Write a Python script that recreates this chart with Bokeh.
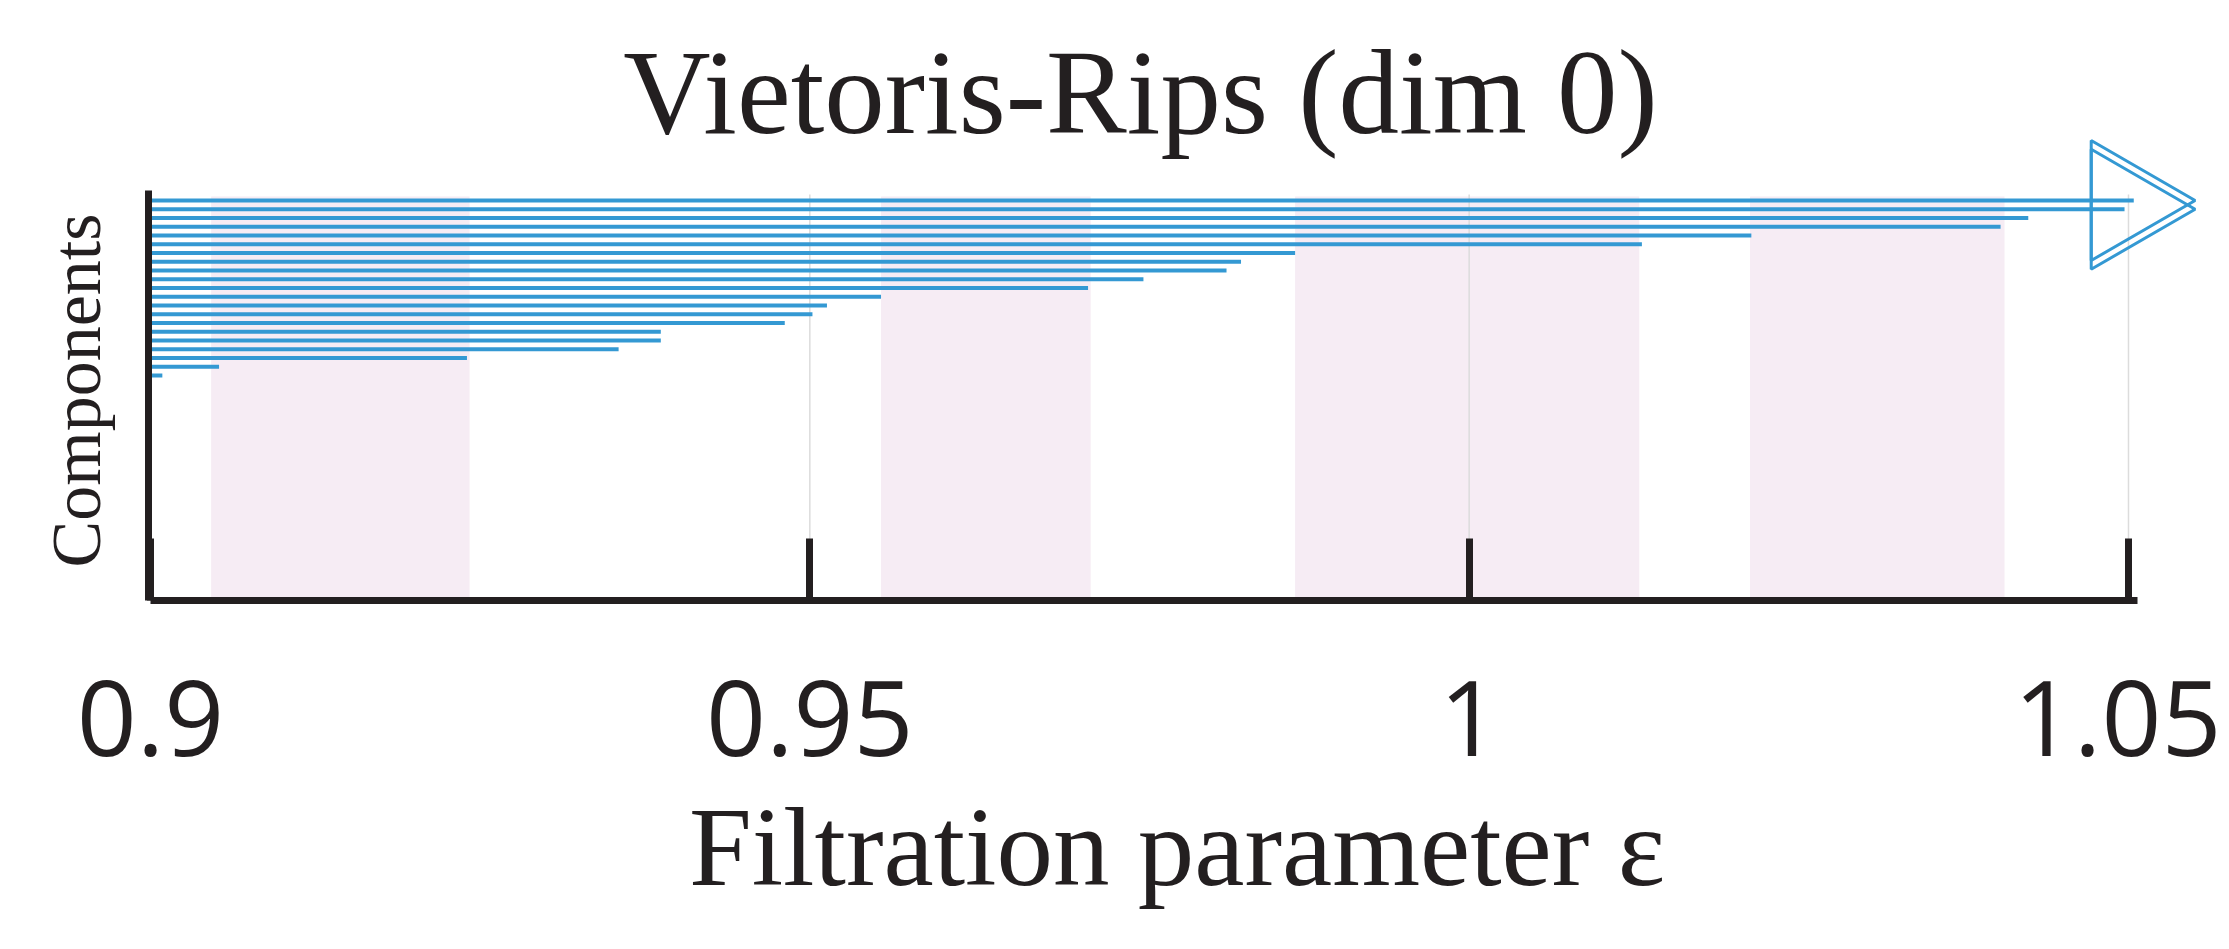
import numpy as np
from bokeh.plotting import figure
from bokeh.models import Range1d, FixedTicker, Label, Title, CustomJSTickFormatter
from bokeh.embed import file_html
from bokeh.resources import INLINE

# ---------------- data ----------------
title_text = "Vietoris-Rips (dim 0)"
x_label = "Filtration parameter ε"
y_label = "Components"

x_ticks = [0.9, 0.95, 1.0, 1.05]
x_tick_labels = ["0.9", "0.95", "1", "1.05"]

component = list(range(1, 22))
birth = [0.0] * len(component)
death = [1.0504, 1.0497, 1.0424, 1.0403, 1.0214, 1.0131, 0.9868, 0.9827,
         0.9816, 0.9753, 0.9711, 0.9554, 0.9513, 0.9502, 0.9481, 0.9387,
         0.9387, 0.9355, 0.9240, 0.9052, 0.9009]
infinite = [True, True] + [False] * 19
arrow_x = 1.0498

band_start = [0.9046, 0.9554, 0.9868, 1.0213]
band_end = [0.9242, 0.9713, 1.0129, 1.0406]

# ---------------- layout constants ----------------
W, H = 2221, 941
BLUE = "#3499d3"
PINK = "#f6ecf4"
INK = "#231f20"
GRID = "#dcdcdc"

x_start, x_end = 0.89985, 1.05584
y_bottom, y_top = 46.714, -20.714     # component index (reversed)
axis_top = -0.143
band_top = 0.543
grid_top = 0.314
x_axis_end = 1.0507

p = figure(width=W, height=H, output_backend="svg", toolbar_location=None,
           title=None,
           x_range=Range1d(x_start, x_end), y_range=Range1d(y_bottom, y_top),
           min_border_left=148, min_border_right=16, min_border_top=10,
           min_border_bottom=341)
p.outline_line_color = None
p.xgrid.visible = False
p.ygrid.visible = False
p.background_fill_color = "white"
p.border_fill_color = "white"

# shaded bands
p.quad(left=band_start, right=band_end, top=[band_top] * len(band_start),
       bottom=[y_bottom] * len(band_start), fill_color=PINK, line_color=None)

# vertical grid lines
p.segment(x0=x_ticks, y0=[grid_top] * len(x_ticks), x1=x_ticks,
          y1=[y_bottom] * len(x_ticks), line_color=GRID, line_width=1.5)

# bars
p.segment(x0=birth, y0=component, x1=death, y1=component,
          line_color=BLUE, line_width=4)

# arrow heads for infinite bars
inf_rows = [c for c, f in zip(component, infinite) if f]
p.scatter(x=[arrow_x] * len(inf_rows), y=inf_rows, marker="triangle", size=120,
          angle=-np.pi / 2, fill_color=None, line_color=BLUE, line_width=3)

# x axis
xa = p.xaxis[0]
xa.ticker = FixedTicker(ticks=x_ticks)
xa.formatter = CustomJSTickFormatter(args=dict(labs=x_tick_labels, tvals=x_ticks),
    code="const i = tvals.findIndex(t => Math.abs(t - tick) < 1e-9); return i >= 0 ? labs[i] : '';")
xa.bounds = (x_ticks[0], x_axis_end)
xa.axis_line_color = INK
xa.axis_line_width = 7
xa.major_tick_line_color = INK
xa.major_tick_line_width = 7
xa.major_tick_in = 62
xa.major_tick_out = 0
xa.minor_tick_line_color = None
xa.major_label_text_font = "Open Sans"
xa.major_label_text_font_size = "105px"
xa.major_label_text_color = INK
xa.major_label_standoff = 80
xa.axis_label = x_label
xa.axis_label_text_font = "Liberation Serif"
xa.axis_label_text_font_size = "113px"
xa.axis_label_text_font_style = "normal"
xa.axis_label_text_color = INK
xa.axis_label_standoff = 25

# y axis (line only)
ya = p.yaxis[0]
ya.ticker = FixedTicker(ticks=[])
ya.bounds = (axis_top, y_bottom)
ya.axis_line_color = INK
ya.axis_line_width = 7
ya.major_tick_line_color = None
ya.major_tick_out = 0
ya.major_tick_in = 0
ya.minor_tick_line_color = None
ya.major_label_text_font_size = "0px"
ya.major_label_standoff = 0

# y label as a side-panel title, starting just above the x axis
p.add_layout(Title(text=y_label, align="left", offset=33, standoff=68,
                   text_font="Liberation Serif", text_font_size="70px",
                   text_font_style="normal", text_color=INK), "left")

# main title
p.add_layout(Label(x=0.97508, y=-11.35, text=title_text, text_align="center",
                   text_baseline="alphabetic", text_font="Liberation Serif",
                   text_font_size="121px", text_color=INK))

open("out.html", "w").write(file_html(p, INLINE))
